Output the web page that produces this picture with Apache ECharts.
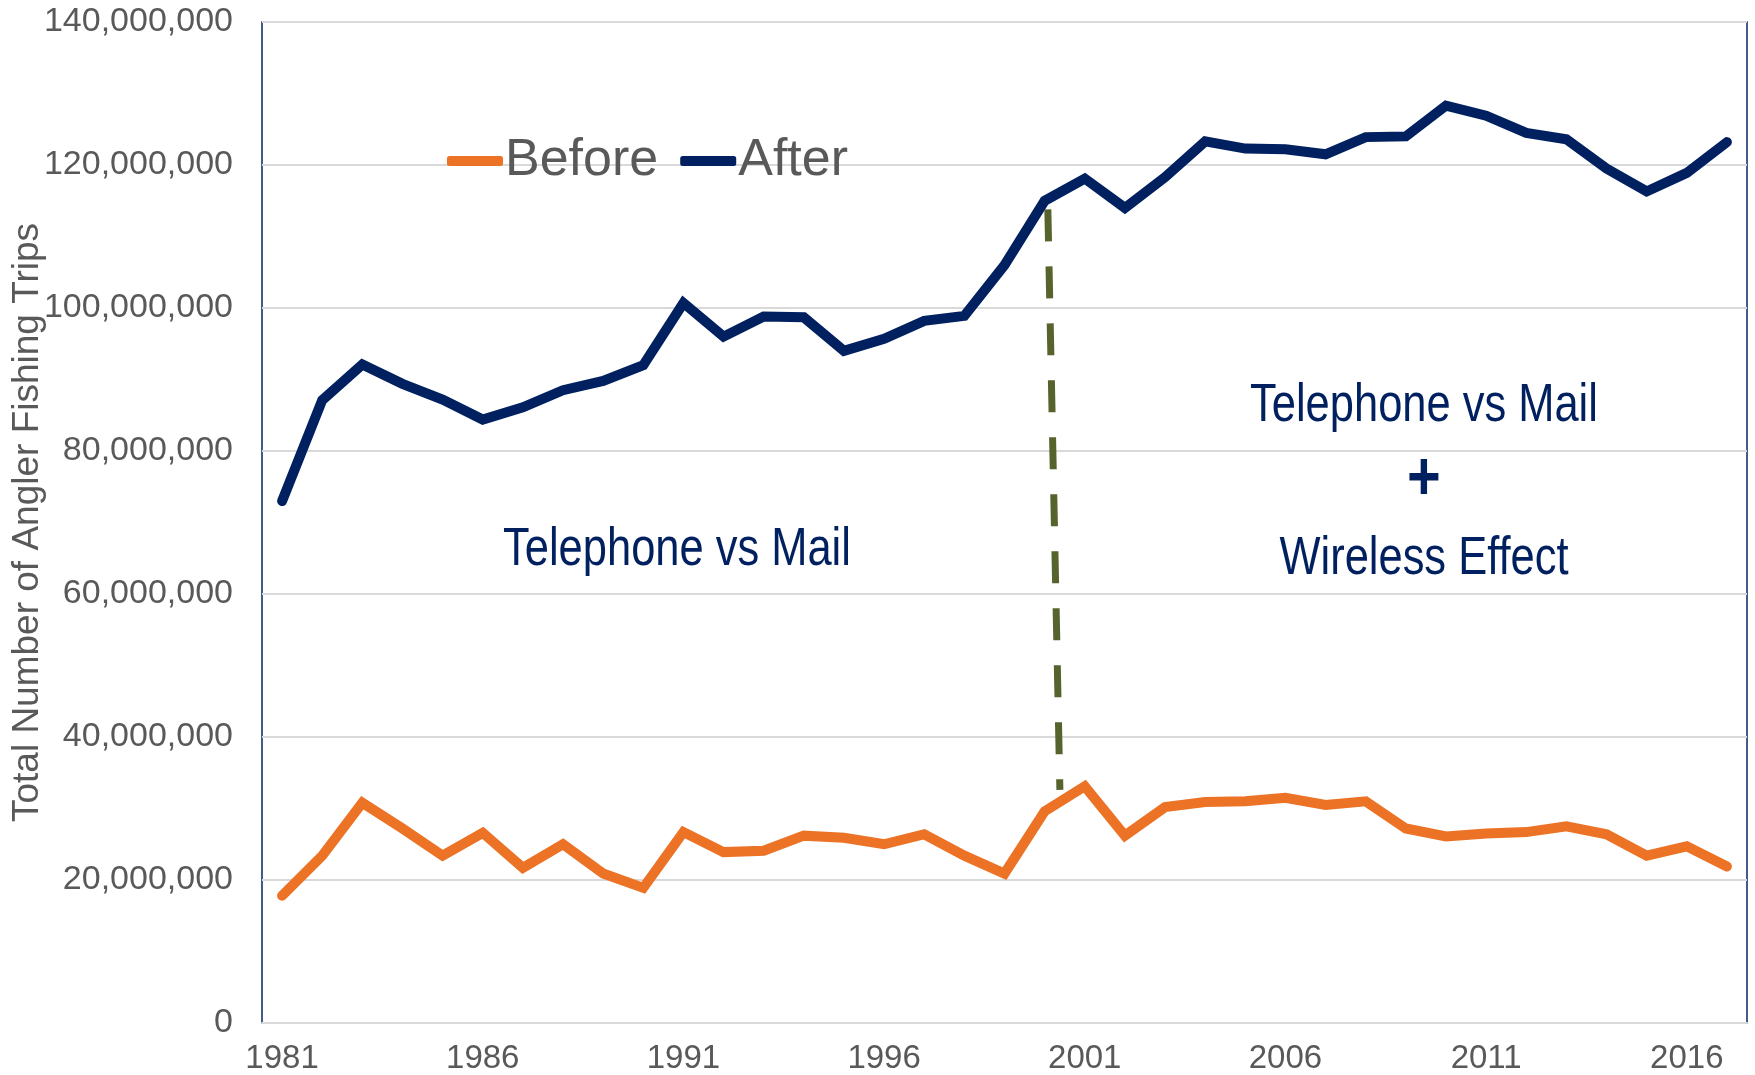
<!DOCTYPE html>
<html>
	<head>
		<meta charset="utf-8" />
		<title>angler trips</title>
		<script src="https://cdn.jsdelivr.net/npm/echarts@6/dist/echarts.min.js"></script>
		<style>
			body{
				margin: 0;
				background: #fff;
			}
			#main{
				width: 1755px;
				height: 1075px;
			}
		</style>
	</head>
	<body>
	<div id="main"></div>
	</body>
	<script type="text/javascript">

		var years = ['1981','1982','1983','1984','1985','1986','1987','1988','1989','1990',
			'1991','1992','1993','1994','1995','1996','1997','1998','1999','2000',
			'2001','2002','2003','2004','2005','2006','2007','2008','2009','2010',
			'2011','2012','2013','2014','2015','2016','2017'];

		// millions of trips
		var before = [17.8, 23.4, 30.8, 27.2, 23.4, 26.6, 21.7, 25.0, 20.9, 18.9,
			26.7, 23.9, 24.1, 26.2, 25.9, 25.0, 26.4, 23.4, 20.9, 29.6,
			33.1, 26.2, 30.2, 30.9, 31.0, 31.5, 30.5, 31.0, 27.2, 26.1,
			26.5, 26.7, 27.5, 26.4, 23.4, 24.7, 21.9];

		var after = [73.0, 87.1, 92.1, 89.4, 87.2, 84.4, 86.1, 88.5, 89.8, 92.0,
			100.7, 96.0, 98.8, 98.7, 94.0, 95.7, 98.2, 98.9, 106.0, 115.0,
			118.1, 114.0, 118.3, 123.3, 122.3, 122.2, 121.5, 123.9, 124.0, 128.3,
			126.9, 124.5, 123.6, 119.5, 116.3, 118.9, 123.2];

		// dashed break line, [category position, millions]
		var breakLine = [[19.08, 113.8], [19.38, 32.6]];

		var yMax = 140;
		var yStep = 20;

		function toCount(arr) {
			return arr.map(function (v) { return Math.round(v * 1e6); });
		}

		var myChart = echarts.init(document.getElementById('main'));

		var noteFont = '53px "Liberation Sans", Arial, sans-serif';
		var noteColor = '#00205F';

		myChart.setOption({
			animation: false,
			grid: {
				left: 262,
				top: 22,
				right: 8,
				bottom: 52,
				outerBoundsMode: 'none',
				containLabel: false,
				show: true,
				borderColor: '#0A2463',
				borderWidth: 1.5
			},
			legend: {
				data: ['Before', 'After'],
				left: 442,
				top: 130,
				icon: 'roundRect',
				itemWidth: 56,
				itemHeight: 10,
				itemGap: 22,
				textStyle: {
					fontFamily: 'Liberation Sans, Arial, sans-serif',
					fontSize: 52,
					color: '#595959',
					padding: [0, 0, 0, -3]
				}
			},
			xAxis: [{
				type: 'category',
				data: years,
				boundaryGap: true,
				axisLine: {lineStyle: {color: '#D9D9D9', width: 2}},
				axisTick: {show: false},
				axisLabel: {
					interval: 4,
					margin: 19,
					fontFamily: 'Liberation Sans, Arial, sans-serif',
					fontSize: 33,
					color: '#595959'
				},
				splitLine: {show: false}
			}, {
				// hidden axis so the break line can sit between categories
				type: 'value',
				min: -0.5,
				max: 36.5,
				show: false
			}],
			yAxis: {
				type: 'value',
				min: 0,
				max: yMax * 1e6,
				interval: yStep * 1e6,
				name: 'Total Number of Angler Fishing Trips',
				nameLocation: 'middle',
				nameRotate: 90,
				nameGap: 216,
				nameMoveOverlap: false,
				nameTextStyle: {
					fontFamily: 'Liberation Sans, Arial, sans-serif',
					fontSize: 37,
					color: '#595959'
				},
				axisLine: {show: false},
				axisTick: {show: false},
				axisLabel: {
					margin: 29,
					fontFamily: 'Liberation Sans, Arial, sans-serif',
					fontSize: 34,
					color: '#595959',
					formatter: function (v) { return v.toLocaleString('en-US'); }
				},
				splitLine: {lineStyle: {color: '#D9D9D9', width: 2}}
			},
			series: [{
				name: 'break',
				type: 'line',
				xAxisIndex: 1,
				data: breakLine.map(function (p) { return [p[0], p[1] * 1e6]; }),
				symbol: 'none',
				silent: true,
				lineStyle: {color: '#56632D', width: 7, type: [32, 25], cap: 'butt'},
				z: 1
			}, {
				name: 'Before',
				type: 'line',
				data: toCount(before),
				symbol: 'none',
				itemStyle: {color: '#EC7226'},
				lineStyle: {color: '#EC7226', width: 10, cap: 'round', join: 'miter'},
				z: 2
			}, {
				name: 'After',
				type: 'line',
				data: toCount(after),
				symbol: 'none',
				itemStyle: {color: '#00205F'},
				lineStyle: {color: '#00205F', width: 10, cap: 'round', join: 'miter'},
				z: 3
			}],
			graphic: [{
				type: 'text',
				x: 677,
				y: 550,
				scaleX: 0.82,
				style: {
					text: 'Telephone vs Mail',
					font: noteFont,
					fill: noteColor,
					textAlign: 'center',
					textVerticalAlign: 'middle'
				}
			}, {
				type: 'text',
				x: 1424,
				y: 406,
				scaleX: 0.82,
				style: {
					text: 'Telephone vs Mail',
					font: noteFont,
					fill: noteColor,
					textAlign: 'center',
					textVerticalAlign: 'middle'
				}
			}, {
				type: 'text',
				x: 1424,
				y: 480,
				scaleX: 0.85,
				style: {
					text: '+',
					font: 'bold 68px "Liberation Sans", Arial, sans-serif',
					fill: noteColor,
					textAlign: 'center',
					textVerticalAlign: 'middle'
				}
			}, {
				type: 'text',
				x: 1424,
				y: 559,
				scaleX: 0.82,
				style: {
					text: 'Wireless Effect',
					font: noteFont,
					fill: noteColor,
					textAlign: 'center',
					textVerticalAlign: 'middle'
				}
			}]
		});

	</script>
</html>
